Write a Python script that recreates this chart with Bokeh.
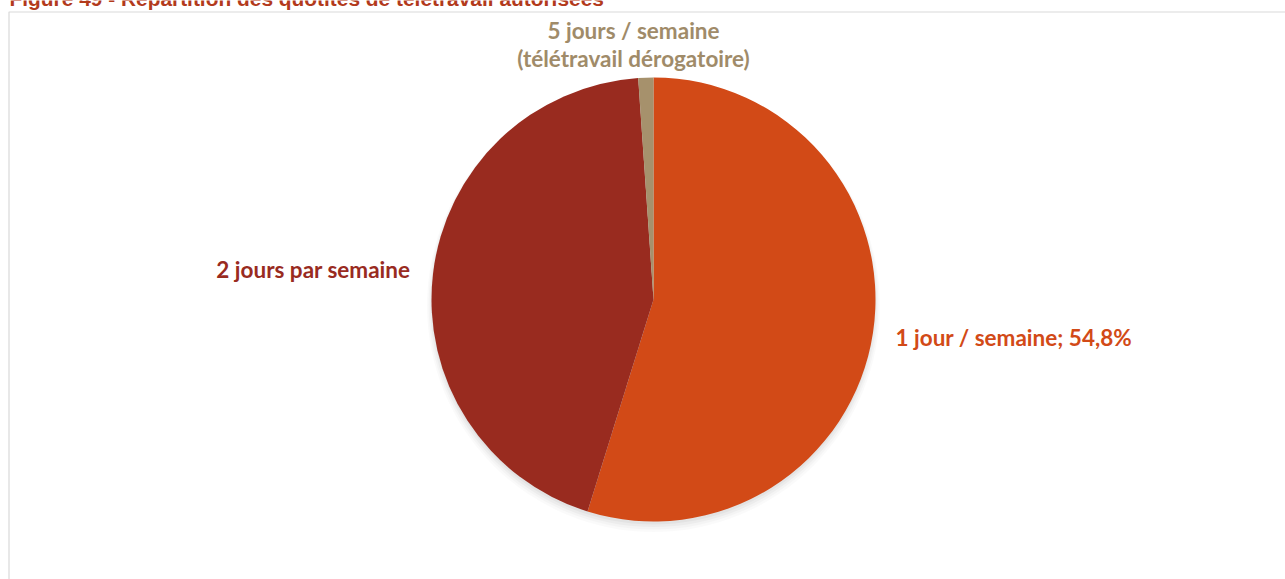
from bokeh.plotting import figure
from bokeh.models import Range1d, ColumnDataSource
from bokeh.core.properties import value
from bokeh.embed import file_html
from bokeh.resources import INLINE
import math

# ---- data ----
title_text = "Figure 49 - Répartition des quotités de télétravail autorisées"
categories = ["1 jour / semaine", "2 jours par semaine", "5 jours / semaine (télétravail dérogatoire)"]
shares = [54.8, 44.1, 1.1]
slice_colors = ["#D24A17", "#992B1F", "#A6916C"]
label_lines = [["1 jour / semaine; 54,8%"], ["2 jours par semaine"], ["5 jours / semaine", "(télétravail dérogatoire)"]]

# ---- layout (page pixels) ----
W, H = 1285, 579
def Y(py):
    return H - py

p = figure(width=W, height=H, output_backend="svg", toolbar_location=None,
           x_range=Range1d(0, W), y_range=Range1d(0, H),
           min_border=0, outline_line_color=None, background_fill_color="white")
p.axis.visible = False
p.grid.visible = False

# title (cut at the top as in the reference)
p.text(x=[9], y=[Y(-2)], text=[title_text], text_font=value("Liberation Sans"),
       text_font_style="bold", text_font_size="20.9px", text_color="#B23A1C",
       text_baseline="alphabetic", text_align="left")

# chart frame
p.line(x=[8.5, 8.5, W + 2], y=[Y(H + 5), Y(11.5), Y(11.5)], line_color="#D9D9D9", line_width=1.2)

cx, cy, R = 653, Y(299), 222

# soft shadow
for i, a in enumerate([0.035, 0.03, 0.025, 0.02]):
    p.circle(x=[cx], y=[cy - 3 - i], radius=R + i * 1.5, fill_color="black",
             fill_alpha=a, line_color=None)

# slices
start = math.pi / 2
starts, ends = [], []
for s in shares:
    end = start - s / 100 * 2 * math.pi
    starts.append(start)
    ends.append(end)
    start = end
src = ColumnDataSource(dict(cat=categories, share=shares, color=slice_colors, start=starts, end=ends))
p.wedge(x=cx, y=cy, radius=R, start_angle="start", end_angle="end", direction="clock",
        fill_color="color", line_color=None, source=src)

# labels
lab_font = value("Lato")
fs = "22.5px"
# 1 jour
p.text(x=[895], y=[Y(337)], text=label_lines[0], text_font=lab_font, text_font_style="bold",
       text_font_size=fs, text_color=slice_colors[0], text_align="left", text_baseline="alphabetic")
# 2 jours
p.text(x=[410], y=[Y(269)], text=label_lines[1], text_font=lab_font, text_font_style="bold",
       text_font_size=fs, text_color=slice_colors[1], text_align="right", text_baseline="alphabetic")
# 5 jours
p.text(x=[633, 633], y=[Y(30), Y(58)], text=label_lines[2], text_font=lab_font, text_font_style="bold",
       text_font_size=fs, text_color="#A08B69", text_align="center", text_baseline="alphabetic")

open("out.html", "w").write(file_html(p, INLINE))
